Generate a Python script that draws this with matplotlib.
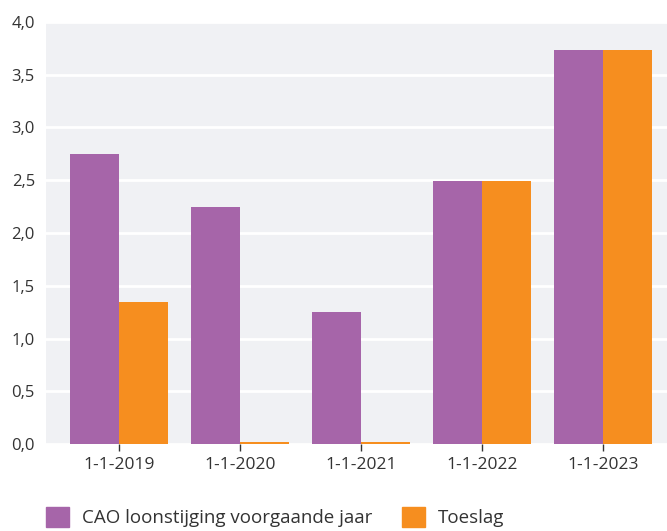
import numpy as np
import matplotlib.pyplot as plt
from matplotlib.patches import Patch
from matplotlib.ticker import FuncFormatter

plt.rcParams['font.family'] = ['Open Sans', 'DejaVu Sans']

# data
dates = ['1-1-2019', '1-1-2020', '1-1-2021', '1-1-2022', '1-1-2023']
cao = [2.75, 2.25, 1.25, 2.49, 3.73]
toeslag = [1.35, 0.02, 0.02, 2.49, 3.73]

purple = '#a665a9'
orange = '#f68e1f'

fig = plt.figure(figsize=(6.67, 5.31), dpi=100)
ax = fig.add_axes([0.069, 0.1638, 0.931, 0.7948])
ax.set_facecolor('#f0f1f4')

x = np.arange(len(dates))
width = 0.405
ax.bar(x - width / 2, cao, width, color=purple, zorder=3)
ax.bar(x + width / 2, toeslag, width, color=orange, zorder=3)

ax.set_ylim(0, 4)
ax.set_xlim(-0.603, 4.53)
ax.set_yticks(np.arange(0, 4.01, 0.5))
ax.yaxis.set_major_formatter(FuncFormatter(lambda v, p: f'{v:.1f}'.replace('.', ',')))
ax.set_xticks(x, dates)
ax.grid(axis='y', color='white', linewidth=2, zorder=1)
ax.set_axisbelow(True)
for s in ax.spines.values():
    s.set_visible(False)

ax.tick_params(axis='y', length=0, pad=8, labelsize=12, labelcolor='#333333')
ax.tick_params(axis='x', length=5, width=1, color='#333333', pad=4, labelsize=12.5, labelcolor='#333333')

handles = [Patch(color=purple, label='CAO loonstijging voorgaande jaar'),
           Patch(color=orange, label='Toeslag')]
fig.legend(handles=handles, loc='lower left', bbox_to_anchor=(0.043, -0.025), ncols=2,
           frameon=False, fontsize=13.5, handlelength=1.25, handleheight=1.25,
           columnspacing=1.55, handletextpad=0.7, labelcolor='#333333')

fig.savefig('out.png', dpi=100)
